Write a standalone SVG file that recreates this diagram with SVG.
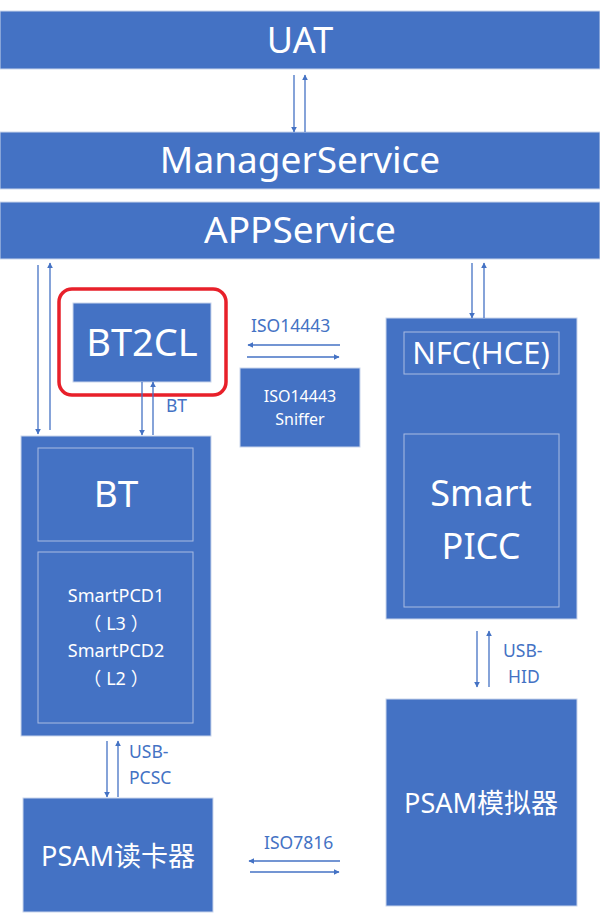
<svg xmlns="http://www.w3.org/2000/svg" width="600" height="913" viewBox="0 0 600 913">
<style>
.box{fill:#4472c4;stroke:#c9d5ec;stroke-width:1}
.inner{fill:none;stroke:#a9bce2;stroke-width:1}
.t{fill:#fff;font-family:"Noto Sans","Noto Sans CJK SC",sans-serif;text-anchor:middle}
.lbl{fill:#4472c4;font-family:"Noto Sans",sans-serif;font-size:17.5px}
.c{stroke:#4472c4;stroke-width:1.3;fill:none;marker-end:url(#ah)}
</style>
<defs>
<marker id="ah" viewBox="0 0 10 10" refX="9" refY="5" markerWidth="6" markerHeight="6" markerUnits="userSpaceOnUse" orient="auto">
<path d="M0,0 L10,5 L0,10 z" fill="#4472c4"/>
</marker>
</defs>
<rect width="600" height="913" fill="#fff"/>
<g id="uat"><rect class="box" x="0" y="11" width="600" height="58"/><text class="t" x="300" y="53" font-size="36">UAT</text></g>
<g id="manager"><rect class="box" x="0" y="132" width="600" height="57"/><text class="t" x="300" y="173" font-size="37">ManagerService</text></g>
<g id="appservice"><rect class="box" x="0" y="202" width="600" height="57"/><text class="t" x="300" y="243" font-size="37">APPService</text></g>
<g id="bt2cl"><rect x="59" y="289" width="167" height="106" rx="13" fill="none" stroke="#e8202a" stroke-width="3.5"/><rect class="box" x="73" y="303" width="138" height="79"/><text class="t" x="142" y="356" font-size="38">BT2CL</text></g>
<g id="sniffer"><rect class="box" x="240" y="368" width="120" height="79"/><text class="t" x="300" y="402" font-size="16">ISO14443</text><text class="t" x="300" y="425" font-size="16">Sniffer</text></g>
<g id="bt"><rect class="box" x="21" y="436" width="190" height="300"/><rect class="inner" x="38" y="448" width="155" height="93"/><text class="t" x="116" y="507" font-size="37">BT</text><rect class="inner" x="38" y="552" width="155" height="171"/><text class="t" x="116" y="602" font-size="18">SmartPCD1</text><text class="t" x="116" y="630" font-size="18">（<tspan dx="5">L3</tspan><tspan dx="5">）</tspan></text><text class="t" x="116" y="657" font-size="18">SmartPCD2</text><text class="t" x="116" y="685" font-size="18">（<tspan dx="5">L2</tspan><tspan dx="5">）</tspan></text></g>
<g id="nfc"><rect class="box" x="386" y="318" width="191" height="301"/><rect class="inner" x="404" y="332" width="155" height="42"/><text class="t" x="481" y="364" font-size="31">NFC(HCE)</text><rect class="inner" x="404" y="434" width="155" height="173"/><text class="t" x="481" y="506" font-size="36">Smart</text><text class="t" x="481" y="559" font-size="36">PICC</text></g>
<g id="psamreader"><rect class="box" x="23" y="798" width="190" height="114"/><text class="t" x="118" y="866" font-size="27">PSAM读卡器</text></g>
<g id="psamsim"><rect class="box" x="386" y="699" width="191" height="207"/><text class="t" x="481" y="813" font-size="27">PSAM模拟器</text></g>
<g id="connectors">
<line class="c" x1="294" y1="75" x2="294" y2="132"/>
<line class="c" x1="305" y1="132" x2="305" y2="75"/>
<line class="c" x1="38" y1="265" x2="38" y2="434"/>
<line class="c" x1="50" y1="430" x2="50" y2="263"/>
<line class="c" x1="142" y1="382" x2="142" y2="435"/>
<line class="c" x1="153" y1="435" x2="153" y2="382"/>
<line class="c" x1="472" y1="263" x2="472" y2="318"/>
<line class="c" x1="484" y1="318" x2="484" y2="263"/>
<line class="c" x1="340" y1="345" x2="248" y2="345"/>
<line class="c" x1="247" y1="357" x2="339" y2="357"/>
<line class="c" x1="107" y1="741" x2="107" y2="797"/>
<line class="c" x1="118" y1="797" x2="118" y2="741"/>
<line class="c" x1="477" y1="631" x2="477" y2="687"/>
<line class="c" x1="489" y1="687" x2="489" y2="631"/>
<line class="c" x1="340" y1="861" x2="249" y2="861"/>
<line class="c" x1="250" y1="872" x2="339" y2="872"/>
<text class="lbl" x="166" y="412">BT</text>
<text class="lbl" x="251" y="332">ISO14443</text>
<text class="lbl" x="129" y="758">USB-</text>
<text class="lbl" x="129" y="784">PCSC</text>
<text class="lbl" x="503" y="657">USB-</text>
<text class="lbl" x="508" y="683">HID</text>
<text class="lbl" x="264" y="849">ISO7816</text>
</g>
</svg>
